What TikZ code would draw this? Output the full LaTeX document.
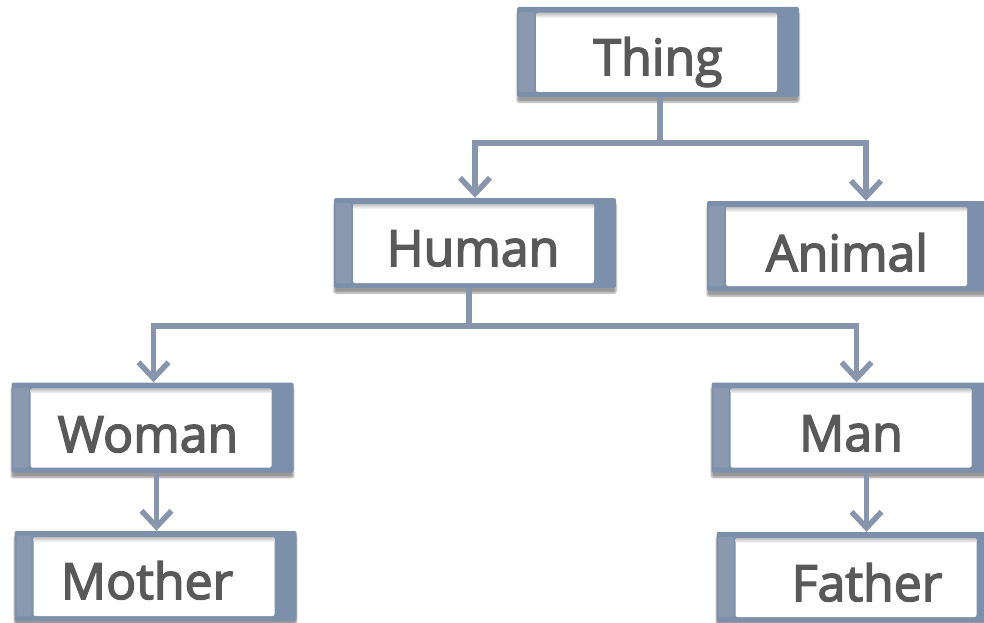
\documentclass[tikz,border=0pt]{standalone}
\usepackage{fontspec}
\newfontfamily\lblfont{Open Sans}[FakeBold=3]
\usetikzlibrary{arrows.meta,shadows.blur,calc}
\definecolor{frame}{HTML}{7D90AB}
\definecolor{framelt}{HTML}{8A99AF}
\definecolor{wire}{HTML}{8796AD}
\definecolor{ink}{HTML}{595959}
\tikzset{
  box/.style={fill=frame, rounded corners=2pt, minimum width=282pt, minimum height=90pt,
    inner sep=0pt,
    blur shadow={shadow xshift=0pt, shadow yshift=-5pt, shadow blur steps=6, shadow opacity=40},
    path picture={
      \fill[framelt] ([xshift=2pt,yshift=-5pt]path picture bounding box.north west)
        rectangle ([xshift=17pt,yshift=5pt]path picture bounding box.south west);
      \fill[white] ([xshift=19pt,yshift=-6pt]path picture bounding box.north west)
        rectangle ([xshift=-22pt,yshift=5pt]path picture bounding box.south east);
      \shade[top color=black!25, bottom color=white]
        ([xshift=19pt,yshift=-6pt]path picture bounding box.north west)
        rectangle ([xshift=-22pt,yshift=-11pt]path picture bounding box.north east);
    }},
  txt/.style={font=\lblfont\fontsize{50}{50}\selectfont, text=ink, inner sep=0pt,
    text height=36pt, text depth=0pt, anchor=center},
  wireline/.style={draw=wire, line width=5.5pt},
  arr/.style={wireline, -{Straight Barb[length=16pt, width=30pt]}},
}
\begin{document}
\begin{tikzpicture}[x=1pt, y=-1pt]
\useasboundingbox (0,0) rectangle (984,623);

% boxes
\node[box] (thing)  at (658,52)    {};
\node[box] (human)  at (475,243)   {};
\node[box] (animal) at (848,246)   {};
\node[box] (woman)  at (152.5,427.5) {};
\node[box] (man)    at (852.5,427.5) {};
\node[box] (mother) at (155.5,576) {};
\node[box] (father) at (857.5,577) {};

% labels
\node[txt] (thing-t)  at (658,57)  {Thing};
\node[txt] (human-t)  at (473,248) {Human};
\node[txt] (animal-t) at (847,253) {Animal};
\node[txt] (woman-t)  at (148,434) {Woman};
\node[txt] (man-t)    at (851,433) {Man};
\node[txt] (mother-t) at (147,581) {Mother};
\node[txt] (father-t) at (867,583) {Father};

% connectors: Thing
\draw[wireline] ([xshift=2pt]thing.south) -- ++(0,46) coordinate (tj);
\draw[arr] (tj) -| (human.north);
\draw[arr] (tj) -| ([xshift=18pt]animal.north);

% connectors: Human
\draw[wireline] ([xshift=-6pt]human.south) -- ++(0,38) coordinate (hj);
\draw[arr] (hj) -| ([xshift=1pt]woman.north);
\draw[arr] (hj) -| ([xshift=4pt]man.north);

% connectors: Woman, Man
\draw[arr] ([xshift=4pt]woman.south) -- ([xshift=1pt]mother.north);
\draw[arr] ([xshift=14pt]man.south) -- ([xshift=9pt]father.north);
\end{tikzpicture}
\end{document}
